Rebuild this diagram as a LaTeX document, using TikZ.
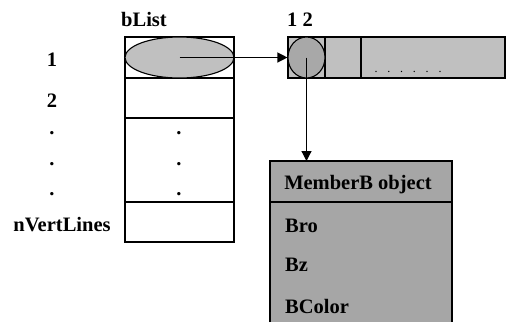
\documentclass[tikz,border=0pt]{standalone}
\usepackage{fontspec}
\setmainfont{Liberation Serif}
\usetikzlibrary{arrows.meta,shapes.geometric}
\definecolor{lightg}{HTML}{C0C0C0}
\definecolor{midg}{HTML}{A8A8A8}
\definecolor{boxg}{HTML}{A6A6A6}
\tikzset{
  lbl/.style={font=\fontsize{20.5}{24}\selectfont\bfseries, anchor=base, inner sep=0pt},
  cell/.style={draw, line width=1.1pt, inner sep=0pt, minimum width=109pt},
  acell/.style={draw, line width=1.1pt, fill=lightg, inner sep=0pt, minimum height=41pt},
  arr/.style={line width=1.2pt, -{Triangle[length=10pt,width=10pt]}},
}
\begin{document}
\begin{tikzpicture}[x=1pt,y=-1pt]
\useasboundingbox (0,0) rectangle (506,322);
% bList table
\node[cell, minimum height=41pt] (r1) at (179.5,57.5) {};
\node[cell, minimum height=40pt] (r2) at (179.5,98) {};
\node[cell, minimum height=84pt] (r3) at (179.5,160) {};
\node[cell, minimum height=40pt] (r4) at (179.5,222) {};
\node[ellipse, draw, line width=1.1pt, fill=lightg, minimum width=109pt, minimum height=41pt, inner sep=0pt] (ell) at (179.5,57.5) {};
% labels
\node[lbl] (tb) at (144,26) {bList};
\node[lbl] (l1) at (52,66) {1};
\node[lbl] (l2) at (52,107) {2};
\node[lbl] (d1) at (52,134) {.};
\node[lbl] (d2) at (52,165) {.};
\node[lbl] (d3) at (52,195) {.};
\node[lbl] (ln) at (62,231) {nVertLines};
\node[lbl] (e1) at (179,134) {.};
\node[lbl] (e2) at (179,165) {.};
\node[lbl] (e3) at (179,195) {.};
% right array
\node[acell, minimum width=37pt] (a1) at (306.5,57.5) {};
\node[acell, minimum width=36pt] (a2) at (343,57.5) {};
\node[acell, minimum width=144pt] (a3) at (433,57.5) {};
\node[ellipse, draw, line width=1.1pt, fill=midg, minimum width=37pt, minimum height=41pt, inner sep=0pt] (circ) at (306.5,57.5) {};
\node[lbl] (t12) at (300,26) {1 2};
\node[anchor=base, inner sep=0pt, font=\fontsize{12}{14}\selectfont] (dots) at (408,72) {.\hspace{9.8pt}.\hspace{9.8pt}.\hspace{9.8pt}.\hspace{9.8pt}.\hspace{9.8pt}.};
% MemberB box
\fill[boxg] (270,161) rectangle (452,322);
\draw[line width=1.1pt] (270,322) -- (270,161) -- (452,161) -- (452,322);
\coordinate (boxtop) at (306.5,161);
\draw[line width=1.1pt] (270,202) -- (452,202);
\node[lbl] (mh) at (358,189) {MemberB object};
\node[lbl, anchor=base west] (bro) at (285,232) {Bro};
\node[lbl, anchor=base west] (bz) at (285,271) {Bz};
\node[lbl, anchor=base west] (bc) at (285,313) {BColor};
% arrows
\draw[arr] (ell.center) -- (a1.west);
\draw[arr] (circ.center) -- (boxtop);
\end{tikzpicture}
\end{document}
